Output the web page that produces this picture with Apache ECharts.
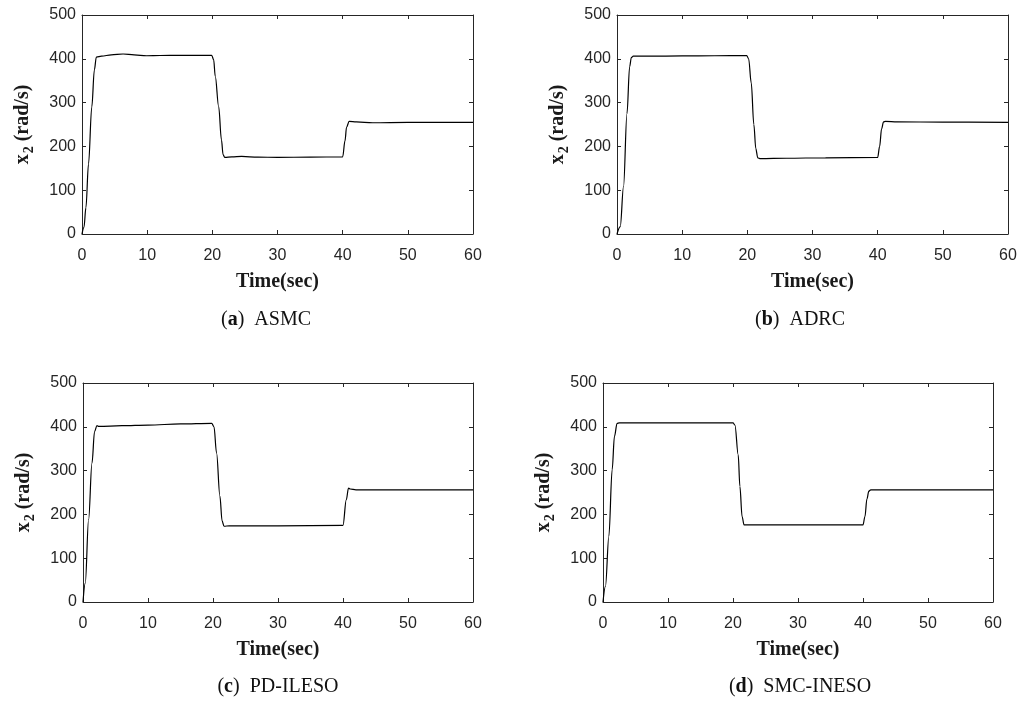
<!DOCTYPE html>
<html>
<head>
<meta charset="utf-8">
<script src="https://cdn.jsdelivr.net/npm/echarts@6/dist/echarts.min.js"></script>
<style>
  html, body { margin: 0; padding: 0; background: #ffffff; }
  #chart { width: 1032px; height: 704px; }
</style>
</head>
<body>
<div id="chart"></div>
<script>
// Speed response x2 (rad/s) versus time for four controllers.
// Each series is a list of [time (s), speed (rad/s)] samples.
const asmc = [
  [0, 0], [0.3, 15], [0.6, 60], [1.0, 160], [1.5, 290], [1.9, 375], [2.2, 404],
  [3, 406], [4.5, 409], [6.3, 411], [8, 409], [9.9, 407], [12, 407.5], [15, 408],
  [19.9, 408], [20.2, 398], [20.45, 360], [20.97, 291], [21.4, 215], [21.65, 181],
  [21.9, 175], [23, 176], [24.5, 177], [27, 175.5], [30, 175], [35, 175.5], [40, 176],
  [40.36, 213], [40.6, 244], [41.0, 257], [42.1, 256], [44.6, 254], [50, 255], [60, 255]
];
const adrc = [
  [0, 0], [0.5, 17], [1.0, 108], [1.53, 275], [1.94, 382], [2.2, 403], [2.5, 406],
  [5, 406], [10, 406.5], [15, 407], [19.9, 407.5], [20.2, 400], [20.6, 345],
  [21.0, 250], [21.3, 195], [21.6, 174], [22, 172], [26, 173], [32, 174], [40, 175],
  [40.3, 200], [40.6, 240], [40.9, 256], [41.2, 257], [43, 256], [50, 255.5], [60, 255]
];
const pdIleso = [
  [0, 0], [0.35, 43], [0.86, 188], [1.38, 317], [1.78, 389], [2.14, 403],
  [2.4, 401], [6, 402.5], [10, 404], [15, 406.5], [19.8, 408], [20.15, 400],
  [20.55, 340], [21.06, 242], [21.4, 185], [21.7, 173], [22.5, 174], [30, 174],
  [40, 175], [40.5, 233], [40.85, 260], [41.1, 258], [42, 256], [50, 256], [60, 256]
];
const smcIneso = [
  [0, 0], [0.38, 36], [0.9, 150], [1.41, 302], [1.76, 378], [2.17, 408], [2.5, 409],
  [10, 409], [20.0, 409], [20.3, 404], [20.8, 336], [21.06, 264], [21.4, 195],
  [21.7, 176], [22.2, 176], [30, 176], [40, 176], [40.3, 195], [40.6, 235],
  [40.9, 253], [41.2, 256], [45, 256], [60, 256]
];

const panels = [
  { data: asmc, letter: 'a', label: 'ASMC' },
  { data: adrc, letter: 'b', label: 'ADRC' },
  { data: pdIleso, letter: 'c', label: 'PD-ILESO' },
  { data: smcIneso, letter: 'd', label: 'SMC-INESO' }
];

const X_MIN = 0, X_MAX = 60, X_STEP = 10;
const Y_MIN = 0, Y_MAX = 500, Y_STEP = 100;

// plot boxes and caption anchors
const boxes = [
  { left: 82, top: 15, width: 391, height: 219, capX: 266, capY: 320 },
  { left: 617, top: 15, width: 391, height: 219, capX: 800, capY: 320 },
  { left: 83, top: 383, width: 390, height: 219, capX: 278, capY: 687 },
  { left: 603, top: 383, width: 390, height: 219, capX: 800, capY: 687 }
];

const AXIS_COLOR = '#262626';
const tickFont = { fontFamily: 'Liberation Sans, Arial, sans-serif', fontSize: 16, color: AXIS_COLOR };
const titleFont = { fontFamily: 'Liberation Serif, Times New Roman, serif', fontWeight: 'bold', fontSize: 20, color: '#1a1a1a' };

const grid = [], xAxis = [], yAxis = [], series = [], graphic = [];

panels.forEach((p, i) => {
  const b = boxes[i];
  grid.push({ left: b.left, top: b.top, width: b.width, height: b.height, containLabel: false });

  const axisLine = { show: true, onZero: false, lineStyle: { color: AXIS_COLOR, width: 1 } };
  const axisTick = { show: true, inside: true, length: 4, lineStyle: { color: AXIS_COLOR, width: 1 } };

  xAxis.push({
    type: 'value', gridIndex: i, position: 'bottom', min: X_MIN, max: X_MAX, interval: X_STEP,
    axisLine, axisTick, splitLine: { show: false },
    axisLabel: Object.assign({ margin: 14 }, tickFont),
    name: 'Time(sec)', nameLocation: 'middle', nameGap: 38, nameTextStyle: titleFont
  });
  yAxis.push({
    type: 'value', gridIndex: i, position: 'left', min: Y_MIN, max: Y_MAX, interval: Y_STEP,
    axisLine, axisTick, splitLine: { show: false },
    axisLabel: Object.assign({ margin: 6 }, tickFont),
    name: 'x{s|2} (rad/s)', nameLocation: 'middle', nameGap: 46,
    nameTextStyle: Object.assign({}, titleFont, {
      rich: { s: { fontFamily: titleFont.fontFamily, fontWeight: 'bold', fontSize: 14, color: '#1a1a1a', verticalAlign: 'bottom', padding: [12, 0, 0, 1] } }
    })
  });
  series.push({
    type: 'line', xAxisIndex: i, yAxisIndex: i, data: p.data,
    showSymbol: false, smooth: 0.35, smoothMonotone: 'x',
    lineStyle: { color: '#000000', width: 1.2 }, silent: true
  });
  graphic.push({
    type: 'text', x: b.capX, y: b.capY,
    style: {
      text: '({b|' + p.letter + '})  ' + p.label,
      fontFamily: 'Liberation Serif, serif', fontSize: 20, fill: '#111111',
      align: 'center', verticalAlign: 'middle',
      rich: { b: { fontFamily: 'Liberation Serif, serif', fontSize: 20, fontWeight: 'bold', fill: '#111111' } }
    }
  });
});

// top and right edges of each box, ticks only
panels.forEach((p, i) => {
  const edge = { show: true, onZero: false, lineStyle: { color: AXIS_COLOR, width: 1 } };
  const tick = { show: true, inside: true, length: 4, lineStyle: { color: AXIS_COLOR, width: 1 } };
  xAxis.push({
    type: 'value', gridIndex: i, position: 'top', min: X_MIN, max: X_MAX, interval: X_STEP,
    axisLine: edge, axisTick: tick, axisLabel: { show: false }, splitLine: { show: false }
  });
  yAxis.push({
    type: 'value', gridIndex: i, position: 'right', min: Y_MIN, max: Y_MAX, interval: Y_STEP,
    axisLine: edge, axisTick: tick, axisLabel: { show: false }, splitLine: { show: false }
  });
});

const chart = echarts.init(document.getElementById('chart'), null, { renderer: 'canvas' });
chart.setOption({
  backgroundColor: '#ffffff',
  animation: false,
  grid, xAxis, yAxis, series, graphic
});
</script>
</body>
</html>
